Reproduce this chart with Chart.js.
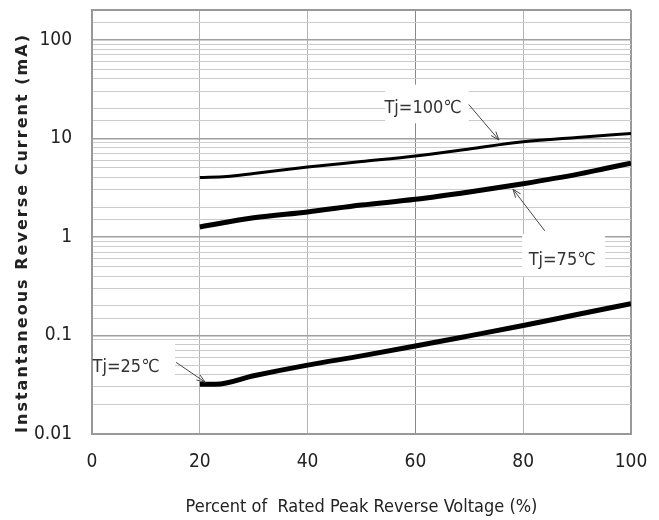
<!DOCTYPE html>
<html>
<head>
<meta charset="utf-8">
<script src="https://cdn.jsdelivr.net/npm/chart.js@4.4.1/dist/chart.umd.min.js"></script>
<style>
  html, body { margin: 0; padding: 0; background: #fff; }
  #wrap { width: 659px; height: 520px; position: relative; }
</style>
</head>
<body>
<div id="wrap"><canvas id="chart"></canvas></div>
<script>
// Reverse current vs. percent of rated peak reverse voltage
const xTj100 = [20, 25, 30, 40, 50, 60, 70, 80, 90, 100];
const yTj100 = [4.0, 4.1, 4.4, 5.1, 5.8, 6.6, 7.8, 9.2, 10.2, 11.2];

const xTj75 = [20, 30, 40, 50, 60, 70, 80, 90, 95, 100];
const yTj75 = [1.26, 1.56, 1.79, 2.1, 2.4, 2.85, 3.46, 4.3, 4.9, 5.6];

const xTj25 = [20, 23, 30, 40, 50, 60, 70, 80, 90, 100];
const yTj25 = [0.032, 0.032, 0.039, 0.05, 0.062, 0.078, 0.099, 0.126, 0.163, 0.21];

const seriesLabels = ['Tj=100℃', 'Tj=75℃', 'Tj=25℃'];
const xTicks = [0, 20, 40, 60, 80, 100];
const yDecades = [0.01, 0.1, 1, 10, 100];
const yTickLabels = ['0.01', '0.1', '1', '10', '100'];

const yTitle = 'Instantaneous Reverse Current (mA)';
const xTitle = 'Percent of  Rated Peak Reverse Voltage (%)';

const narrow = "'Liberation Sans Narrow', 'DejaVu Sans Condensed', 'Arial Narrow', sans-serif";

function pairs(xs, ys) {
    return xs.map((x, i) => ({ x: x, y: ys[i] }));
}

function isDecade(v) {
    return yDecades.some(d => Math.abs(d - v) < d * 1e-6);
}

// white boxes behind labels, then the labels and arrows (placed in data units)
const notes = [
    { text: seriesLabels[0], box: [54.4, 69.9, 35, 14.2], at: [61.4, 20.1], arrow: [69.9, 22, 75.5, 9.6] },
    { text: seriesLabels[1], box: [79.8, 95.2, 1.07, 0.40], at: [87.2, 0.573], arrow: [84.0, 1.15, 78.1, 3.05] },
    { text: seriesLabels[2], box: [0, 15.4, 0.085, 0.035], at: [6.3, 0.0475], arrow: [15.6, 0.0533, 21.0, 0.0335] }
];

const notePlugin = {
    id: 'notes',
    beforeDatasetsDraw(chart) {
        const { ctx, scales: { x, y } } = chart;
        ctx.save();
        ctx.fillStyle = '#fff';
        notes.forEach(n => {
            const x0 = Math.max(x.getPixelForValue(n.box[0]), chart.chartArea.left + 1);
            const x1 = x.getPixelForValue(n.box[1]);
            const y0 = y.getPixelForValue(n.box[2]), y1 = y.getPixelForValue(n.box[3]);
            ctx.fillRect(x0, y0, x1 - x0, y1 - y0);
        });
        ctx.restore();
    },
    afterDatasetsDraw(chart) {
        const { ctx, scales: { x, y } } = chart;
        ctx.save();
        ctx.font = '18px ' + narrow;
        ctx.fillStyle = '#333';
        ctx.textAlign = 'center';
        ctx.textBaseline = 'middle';
        notes.forEach(n => {
            ctx.fillText(n.text, x.getPixelForValue(n.at[0]), y.getPixelForValue(n.at[1]));
            const ax = x.getPixelForValue(n.arrow[0]), ay = y.getPixelForValue(n.arrow[1]);
            const bx = x.getPixelForValue(n.arrow[2]), by = y.getPixelForValue(n.arrow[3]);
            const ang = Math.atan2(by - ay, bx - ax);
            ctx.strokeStyle = '#444';
            ctx.lineWidth = 1;
            ctx.beginPath();
            ctx.moveTo(ax, ay);
            ctx.lineTo(bx, by);
            ctx.moveTo(bx - 9 * Math.cos(ang - 0.35), by - 9 * Math.sin(ang - 0.35));
            ctx.lineTo(bx, by);
            ctx.lineTo(bx - 9 * Math.cos(ang + 0.35), by - 9 * Math.sin(ang + 0.35));
            ctx.stroke();
        });
        ctx.restore();
    },
    afterDraw(chart) {
        // rotated y title, spread out like the original
        const ctx = chart.ctx;
        const span = 398;
        ctx.save();
        ctx.translate(23, 234);
        ctx.rotate(-Math.PI / 2);
        ctx.font = "bold 16px 'DejaVu Sans', sans-serif";
        ctx.fillStyle = '#222';
        ctx.textBaseline = 'middle';
        ctx.textAlign = 'left';
        const w = ctx.measureText(yTitle).width;
        ctx.letterSpacing = Math.max(0, (span - w) / (yTitle.length - 1)) + 'px';
        ctx.fillText(yTitle, -span / 2, 0);
        ctx.restore();
    }
};

const lineStyle = {
    borderColor: '#000',
    pointRadius: 0,
    fill: false,
    cubicInterpolationMode: 'monotone',
    borderCapStyle: 'butt'
};

new Chart(document.getElementById('chart'), {
    type: 'line',
    data: {
        datasets: [
            { ...lineStyle, label: seriesLabels[0], data: pairs(xTj100, yTj100), borderWidth: 3 },
            { ...lineStyle, label: seriesLabels[1], data: pairs(xTj75, yTj75), borderWidth: 5 },
            { ...lineStyle, label: seriesLabels[2], data: pairs(xTj25, yTj25), borderWidth: 5 }
        ]
    },
    options: {
        responsive: true,
        maintainAspectRatio: false,
        animation: false,
        layout: { padding: { top: 10, right: 28, left: 0, bottom: 0 } },
        plugins: {
            legend: { display: false },
            tooltip: { enabled: false }
        },
        scales: {
            x: {
                type: 'linear',
                min: 0,
                max: 100,
                afterBuildTicks: (s) => { s.ticks = xTicks.map(v => ({ value: v })); },
                afterFit: (s) => { s.height = 86; s.paddingLeft = 0; s.paddingRight = 0; },
                grid: {
                    drawTicks: false,
                    color: (c) => (c.tick.value === 0 || c.tick.value === 100) ? '#999' : (c.tick.value === 60 ? '#888' : '#b4b4b4'),
                    lineWidth: (c) => (c.tick.value === 0 || c.tick.value === 100) ? 2 : 1
                },
                border: { display: true, color: '#999', width: 2 },
                ticks: { color: '#222', padding: 17, font: { family: narrow, size: 19 } },
                title: {
                    display: true,
                    text: xTitle,
                    color: '#222',
                    font: { family: narrow, size: 18 },
                    padding: { top: 0, bottom: 2 }
                }
            },
            y: {
                type: 'logarithmic',
                min: 0.01,
                max: 200,
                afterFit: (s) => { s.width = 92; s.paddingTop = 0; s.paddingBottom = 0; },
                grid: {
                    drawTicks: false,
                    color: (c) => c.tick.value >= 200 ? '#999' : (isDecade(c.tick.value) ? '#a0a0a0' : '#cbcbcb'),
                    lineWidth: (c) => c.tick.value >= 200 ? 2 : (isDecade(c.tick.value) ? 1.5 : 1)
                },
                border: { display: true, color: '#999', width: 2 },
                ticks: {
                    autoSkip: false,
                    color: '#222',
                    padding: 20,
                    font: { family: narrow, size: 19 },
                    callback: (v) => {
                        const i = yDecades.findIndex(d => Math.abs(d - v) < d * 1e-6);
                        return i >= 0 ? yTickLabels[i] : '';
                    }
                }
            }
        }
    },
    plugins: [notePlugin]
});
</script>
</body>
</html>
